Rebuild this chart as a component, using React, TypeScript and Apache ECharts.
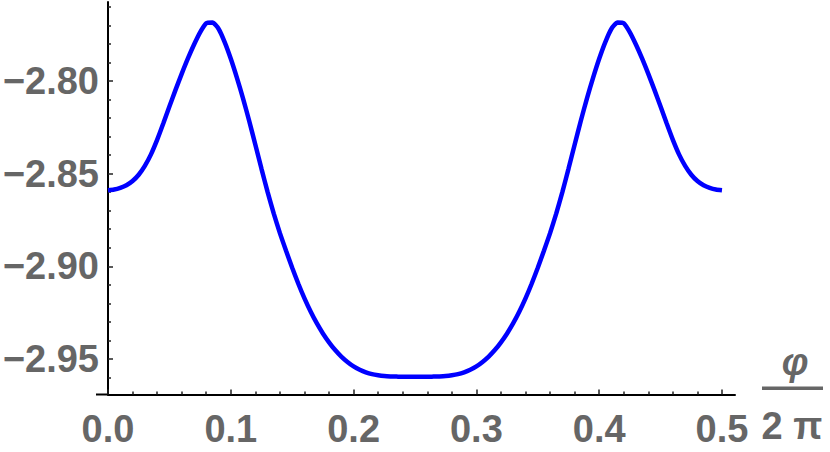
import React, { useEffect, useRef } from "react";
import * as echarts from "echarts";

const phiValues = [
  0, 0.005, 0.01, 0.015, 0.02, 0.025, 0.03, 0.035, 0.04, 0.045, 0.05, 0.055, 0.06, 0.065,
  0.07, 0.075, 0.08, 0.085, 0.09, 0.095, 0.1, 0.105, 0.11, 0.115, 0.12, 0.125, 0.13, 0.135,
  0.14, 0.145, 0.15, 0.155, 0.16, 0.165, 0.17, 0.175, 0.18, 0.185, 0.19, 0.195, 0.2, 0.205,
  0.21, 0.215, 0.22, 0.225, 0.23, 0.235, 0.24, 0.245, 0.25,
  0.255, 0.26, 0.265, 0.27, 0.275, 0.28, 0.285, 0.29, 0.295, 0.3, 0.305, 0.31, 0.315, 0.32,
  0.325, 0.33, 0.335, 0.34, 0.345, 0.35, 0.355, 0.36, 0.365, 0.37, 0.375, 0.38, 0.385, 0.39,
  0.395, 0.4, 0.405, 0.41, 0.415, 0.42, 0.425, 0.43, 0.435, 0.44, 0.445, 0.45, 0.455, 0.46,
  0.465, 0.47, 0.475, 0.48, 0.485, 0.49, 0.495, 0.5,
];
const energyValues = [
  -2.859, -2.8586, -2.8577, -2.8563, -2.854, -2.8506, -2.8458, -2.8396, -2.8318, -2.823,
  -2.8138, -2.8048, -2.7962, -2.788, -2.7805, -2.7738, -2.7689, -2.7685, -2.7718, -2.779,
  -2.788, -2.7983, -2.8095, -2.8216, -2.8344, -2.8474, -2.86, -2.8716, -2.8821, -2.8916,
  -2.9008, -2.9094, -2.9173, -2.9244, -2.9307, -2.9362, -2.941, -2.9452, -2.9487, -2.9516,
  -2.954, -2.9558, -2.9572, -2.9582, -2.9588, -2.9592, -2.9594, -2.9595, -2.9596, -2.9596,
  -2.9596,
  -2.9596, -2.9596, -2.9595, -2.9594, -2.9592, -2.9588, -2.9582, -2.9572, -2.9558, -2.954,
  -2.9516, -2.9487, -2.9452, -2.941, -2.9362, -2.9307, -2.9244, -2.9173, -2.9094, -2.9008,
  -2.8916, -2.8821, -2.8716, -2.86, -2.8474, -2.8344, -2.8216, -2.8095, -2.7983, -2.788,
  -2.779, -2.7718, -2.7685, -2.7689, -2.7738, -2.7805, -2.788, -2.7962, -2.8048, -2.8138,
  -2.823, -2.8318, -2.8396, -2.8458, -2.8506, -2.854, -2.8563, -2.8577, -2.8586, -2.859,
];

const xMajorTicks = [0, 0.1, 0.2, 0.3, 0.4, 0.5];
const xMinorTicks = [
  0.02, 0.04, 0.06, 0.08, 0.12, 0.14, 0.16, 0.18, 0.22, 0.24, 0.26, 0.28, 0.32, 0.34, 0.36,
  0.38, 0.42, 0.44, 0.46, 0.48,
];
const yMajorTicks = [-2.95, -2.9, -2.85, -2.8];
const yMinorTicks = [
  -2.96, -2.94, -2.93, -2.92, -2.91, -2.89, -2.88, -2.87, -2.86, -2.84, -2.83, -2.82, -2.81,
  -2.79, -2.78, -2.77, -2.76,
];

const X_MIN = 0;
const X_MAX = 0.5106;
const Y_MIN = -2.96916;
const Y_MAX = -2.7574;

const GREY = "#666666";
const FONT = "Liberation Sans";
const FS = 38;

export default function App() {
  const ref = useRef<HTMLDivElement>(null);

  useEffect(() => {
    if (!ref.current) return;
    const chart = echarts.init(ref.current, null, { renderer: "svg" });
    const tok = {
      color: GREY,
      fontSize: FS,
      fontWeight: "bold" as const,
      fontFamily: FONT,
    };
    const tickStyle = { color: "#222", width: 1.5 };
    chart.setOption({
      animation: false,
      backgroundColor: "#ffffff",
      grid: {
        left: 108,
        right: 95,
        top: 2,
        bottom: 57.5,
        containLabel: false,
        outerBoundsMode: "none",
      },
      xAxis: [
        {
          type: "value",
          min: X_MIN,
          max: X_MAX,
          position: "bottom",
          axisLine: { show: true, onZero: false, lineStyle: { color: "#000", width: 2 } },
          axisTick: {
            show: true,
            inside: true,
            length: 5,
            customValues: xMajorTicks,
            lineStyle: tickStyle,
          },
          axisLabel: {
            show: true,
            customValues: xMajorTicks,
            margin: 15,
            formatter: (v: number) => v.toFixed(1),
            ...tok,
          },
          splitLine: { show: false },
        },
        {
          type: "value",
          min: X_MIN,
          max: X_MAX,
          position: "bottom",
          axisLine: { show: false, onZero: false },
          axisTick: {
            show: true,
            inside: true,
            length: 3,
            customValues: xMinorTicks,
            lineStyle: tickStyle,
          },
          axisLabel: { show: false },
          splitLine: { show: false },
        },
      ],
      yAxis: [
        {
          type: "value",
          min: Y_MIN,
          max: Y_MAX,
          position: "left",
          axisLine: { show: true, onZero: false, lineStyle: { color: "#000", width: 2 } },
          axisTick: {
            show: true,
            inside: true,
            length: 5,
            customValues: yMajorTicks,
            lineStyle: tickStyle,
          },
          axisLabel: {
            show: true,
            customValues: yMajorTicks,
            margin: 9,
            formatter: (v: number) => "\u2212" + Math.abs(v).toFixed(2),
            ...tok,
          },
          splitLine: { show: false },
        },
        {
          type: "value",
          min: Y_MIN,
          max: Y_MAX,
          position: "left",
          axisLine: { show: false, onZero: false },
          axisTick: {
            show: true,
            inside: true,
            length: 3,
            customValues: yMinorTicks,
            lineStyle: tickStyle,
          },
          axisLabel: { show: false },
          splitLine: { show: false },
        },
      ],
      graphic: [
        {
          type: "line",
          shape: { x1: 96, y1: 394.5, x2: 108, y2: 394.5 },
          style: { stroke: "#000", lineWidth: 2 },
        },
        {
          type: "text",
          x: 795,
          y: 362,
          style: {
            text: "\u03c6",
            fill: GREY,
            fontFamily: FONT,
            fontSize: FS,
            fontWeight: "bold",
            fontStyle: "italic",
            align: "center",
            verticalAlign: "middle",
          },
        },
        {
          type: "rect",
          shape: { x: 762, y: 386.5, width: 61, height: 3.5 },
          style: { fill: GREY },
        },
        {
          type: "text",
          x: 792,
          y: 426,
          style: {
            text: "2 \u03c0",
            fill: GREY,
            fontFamily: FONT,
            fontSize: FS,
            fontWeight: "bold",
            align: "center",
            verticalAlign: "middle",
          },
        },
      ],
      series: [
        {
          type: "line",
          xAxisIndex: 0,
          yAxisIndex: 0,
          data: phiValues.map((p, i) => [p, energyValues[i]]),
          smooth: 0.2,
          showSymbol: false,
          lineStyle: { color: "#0000ff", width: 4.5 },
          clip: false,
        },
      ],
    });
    return () => chart.dispose();
  }, []);

  return (
    <div
      ref={ref}
      style={{ position: "absolute", left: 0, top: 0, width: 830, height: 452 }}
    />
  );
}
